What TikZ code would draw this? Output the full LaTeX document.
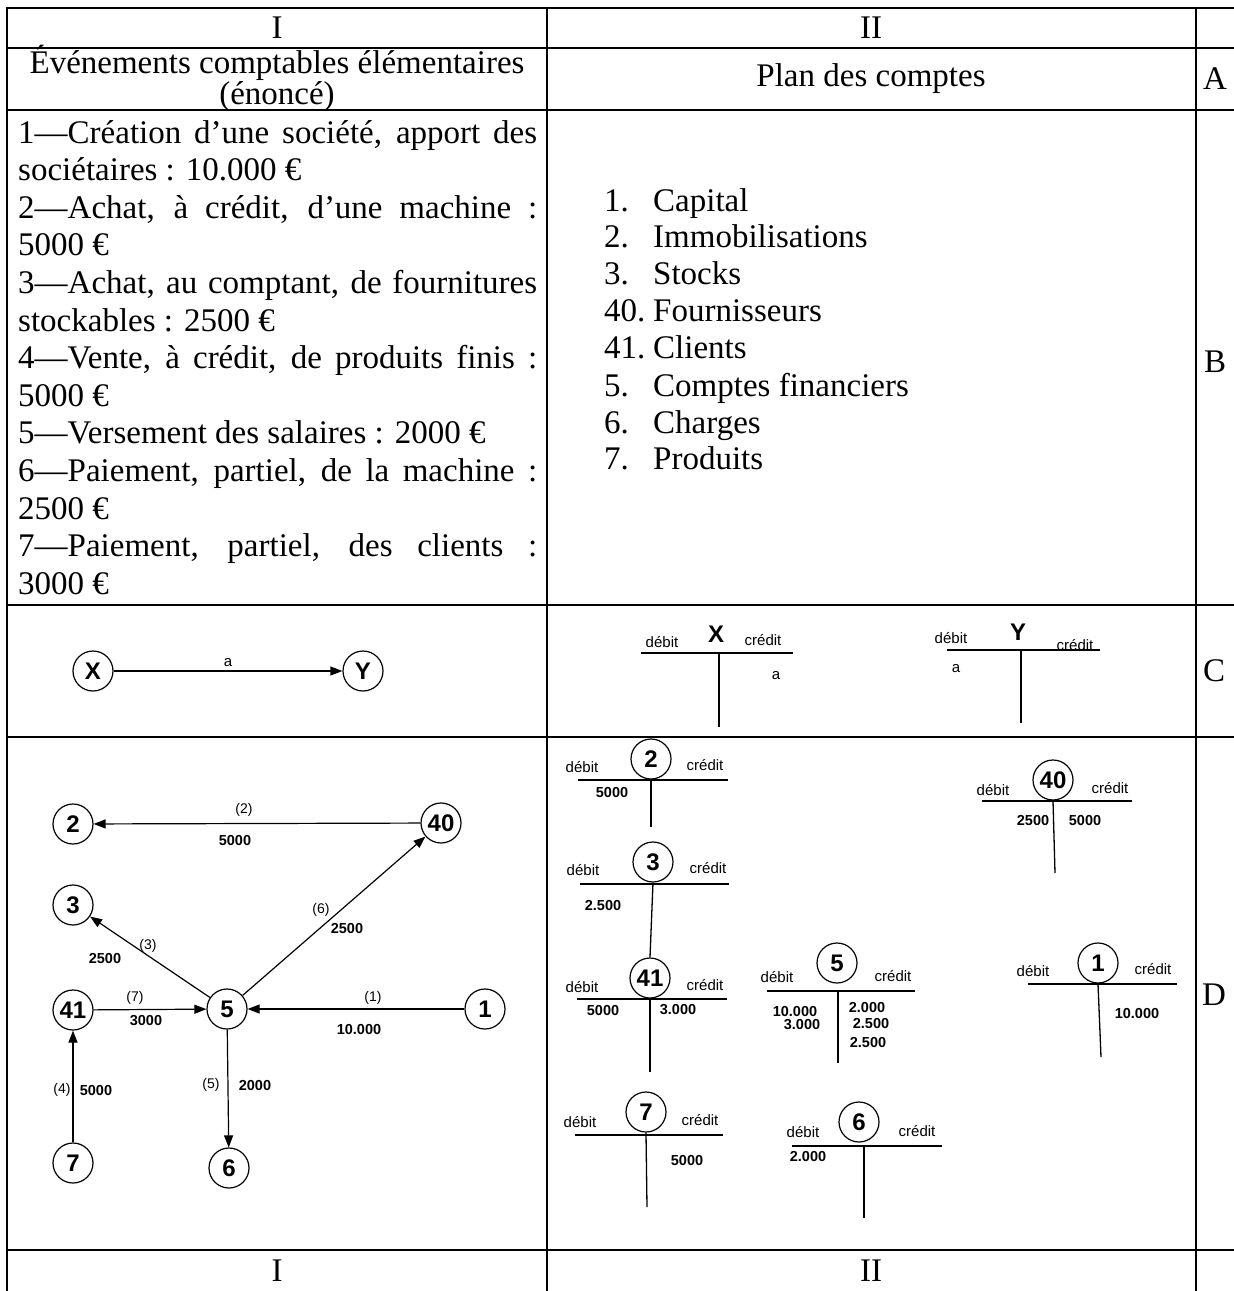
\documentclass[tikz,border=0pt]{standalone}
\usepackage{fontspec}
\setmainfont{Liberation Serif}
\newfontfamily\sansfam{Liberation Sans}
\usetikzlibrary{arrows.meta}
\newcommand\TabFont{\fontsize{33}{37.4}\selectfont}
\newcommand\CircFont{\sansfam\bfseries\fontsize{24}{24}\selectfont}
\newcommand\LabFont{\sansfam\fontsize{15}{15}\selectfont}
\newcommand\NumFont{\sansfam\bfseries\fontsize{14.5}{14.5}\selectfont}
\newcommand\ParFont{\sansfam\fontsize{14}{14}\selectfont}
\begin{document}
\begin{tikzpicture}[x=1pt,y=-1pt,
  tline/.style={line width=2.4pt},
  circ/.style={circle, draw, line width=1.2pt, minimum size=40pt, inner sep=0pt, font=\CircFont},
  tacc/.style={line width=1.3pt},
  lab/.style={font=\LabFont, inner sep=0pt},
  num/.style={font=\NumFont, inner sep=0pt},
  par/.style={font=\ParFont, inner sep=0pt},
  big/.style={font=\TabFont, inner sep=0pt},
  bigl/.style={big, anchor=base west},
  arr/.style={line width=1.2pt, -{Triangle[length=12pt,width=9pt]}},
  letter/.style={font=\CircFont, inner sep=0pt}]
\useasboundingbox (0,0) rectangle (1234,1291);
% ---------- table grid ----------
\foreach \yy in {8,48,110,605,737,1250}
  \draw[tline] (5.8,\yy) -- (1234,\yy);
\foreach \xx in {7,547,1196}
  \draw[tline] (\xx,8) -- (\xx,1291);
% ---------- header rows ----------
\node[big] (hI) at (277,28) {I};
\node[big] (hII) at (871,28) {II};
\node[big, align=center, font=\fontsize{33}{28}\selectfont] (hA1) at (277,78) {Événements comptables élémentaires\\(énoncé)};
\node[big] (hA2) at (871,79) {Plan des comptes};
\node[big] (lA) at (1215,79) {A};
\node[big] (lB) at (1215,362) {B};
\node[big] (lC) at (1214,671) {C};
\node[big] (lD) at (1214,995) {D};
\node[big] (fI) at (277,1271) {I};
\node[big] (fII) at (871,1271) {II};
% ---------- row B left ----------
\node[bigl] (b1) at (18,143.0) {\makebox[519pt][s]{1—Création d’une société, apport des}};
\node[bigl] (b2) at (18,180.6) {sociétaires : 10.000 €};
\node[bigl] (b3) at (18,218.2) {\makebox[519pt][s]{2—Achat, à crédit, d’une machine :}};
\node[bigl] (b4) at (18,255.8) {5000 €};
\node[bigl] (b5) at (18,293.4) {\makebox[519pt][s]{3—Achat, au comptant, de fournitures}};
\node[bigl] (b6) at (18,331.0) {stockables : 2500 €};
\node[bigl] (b7) at (18,368.6) {\makebox[519pt][s]{4—Vente, à crédit, de produits finis :}};
\node[bigl] (b8) at (18,406.2) {5000 €};
\node[bigl] (b9) at (18,443.8) {5—Versement des salaires : 2000 €};
\node[bigl] (b10) at (18,481.4) {\makebox[519pt][s]{6—Paiement, partiel, de la machine :}};
\node[bigl] (b11) at (18,519.0) {2500 €};
\node[bigl] (b12) at (18,556.6) {\makebox[519pt][s]{7—Paiement, partiel, des clients :}};
\node[bigl] (b13) at (18,594.2) {3000 €};
% ---------- row B right ----------
\foreach \nm/\lbl/\yy [count=\i] in {1./Capital/211, 2./Immobilisations/247, 3./Stocks/284, 40./Fournisseurs/321, 41./Clients/358, 5./Comptes financiers/396, 6./Charges/433, 7./Produits/469}{
  \node[bigl] (pn\i) at (604,\yy) {\nm};
  \node[bigl] (pl\i) at (653,\yy) {\lbl};
}
% ---------- row C left ----------
\node[circ] (cx) at (93,671) {X};
\node[circ] (cy) at (363,671) {Y};
\draw[arr] (cx) -- node[lab, above=4pt] (la) {a} (cy);
% ---------- row C right ----------
\coordinate (xl) at (641,653); \coordinate (xr) at (793,653);
\coordinate (xt) at (719,653); \coordinate (xb) at (719,727);
\draw[tacc] (xl) -- (xr); \draw[tacc] (xt) -- (xb);
\node[letter] (tX) at (716,634) {X};
\node[lab] (xd) at (662,642) {débit};
\node[lab] (xc) at (763,640) {crédit};
\node[lab] (xa) at (776,676) {a};
\coordinate (yl) at (947,650); \coordinate (yr) at (1100,650);
\coordinate (yt) at (1021,650); \coordinate (yb) at (1021,723);
\draw[tacc] (yl) -- (yr); \draw[tacc] (yt) -- (yb);
\node[letter] (tY) at (1018,632) {Y};
\node[lab] (yd) at (951,638) {débit};
\node[lab] (yc) at (1075,645) {crédit};
\node[lab] (ya) at (956,669) {a};
% ---------- row D left graph ----------
\node[circ] (n2) at (73,824) {2};
\node[circ] (n40) at (441,823) {40};
\node[circ] (n3) at (73,905) {3};
\node[circ] (n41) at (73,1010) {41};
\node[circ] (n5) at (227,1009) {5};
\node[circ] (n1) at (485,1009) {1};
\node[circ] (n7) at (73,1163) {7};
\node[circ] (n6) at (229,1168) {6};
\draw[arr] (n40) -- (n2);
\draw[arr] (n5) -- (n40);
\draw[arr] (n5) -- (n3);
\draw[arr] (n41) -- (n5);
\draw[arr] (n1) -- (n5);
\draw[arr] (n5) -- (n6);
\draw[arr] (n7) -- (n41);
\node[par] (e2a) at (244,810) {(2)};
\node[num] (e2b) at (235,840) {5000};
\node[par] (e6a) at (321,910) {(6)};
\node[num] (e6b) at (347,928) {2500};
\node[par] (e3a) at (148,946) {(3)};
\node[num] (e3b) at (105,958) {2500};
\node[par] (e7a) at (135,998) {(7)};
\node[num] (e7b) at (146,1021) {3000};
\node[par] (e1a) at (373,998) {(1)};
\node[num] (e1b) at (359,1029) {10.000};
\node[par] (e5a) at (211,1085) {(5)};
\node[num] (e5b) at (255,1085) {2000};
\node[par] (e4a) at (62,1090) {(4)};
\node[num] (e4b) at (96,1090) {5000};
% ---------- row D T-accounts ----------
% account 2
\node[circ] (t2) at (651,759) {2};
\draw[tacc] (578,780) -- (728,780); \draw[tacc] (t2.south) -- (651,827);
\node[lab] at (582,767) {débit}; \node[lab] at (705,765) {crédit};
\node[num] at (612,792) {5000};
% account 3
\node[circ] (t3) at (653,862) {3};
\node[circ] (t41) at (650,978) {41};
\draw[tacc] (580,884) -- (729,884); \draw[tacc] (t3.south) -- (t41.north);
\node[lab] at (583,870) {débit}; \node[lab] at (708,868) {crédit};
\node[num] at (603,905) {2.500};
% account 41
\draw[tacc] (577,999) -- (727,999); \draw[tacc] (t41.south) -- (650,1072);
\node[lab] at (582,987) {débit}; \node[lab] at (705,985) {crédit};
\node[num] at (603,1010) {5000}; \node[num] at (678,1010) {3.000};
% account 5
\node[circ] (t5) at (837,963) {5};
\draw[tacc] (767,991) -- (915,991); \draw[tacc] (838,991) -- (838,1063);
\node[lab] at (777,977) {débit}; \node[lab] at (893,976) {crédit};
\node[num] at (795,1011) {10.000}; \node[num] at (802,1025) {3.000};
\node[num] at (867,1007) {2.000}; \node[num] at (871,1023) {2.500}; \node[num] at (868,1042) {2.500};
% account 40
\node[circ] (t40) at (1053,780) {40};
\draw[tacc] (982,801) -- (1132,801); \draw[tacc] (t40.south) -- (1055,873);
\node[lab] at (993,790) {débit}; \node[lab] at (1110,788) {crédit};
\node[num] at (1033,820) {2500}; \node[num] at (1085,820) {5000};
% account 1
\node[circ] (t1) at (1098,963) {1};
\draw[tacc] (1028,984) -- (1177,984); \draw[tacc] (t1.south) -- (1101,1057);
\node[lab] at (1033,971) {débit}; \node[lab] at (1153,969) {crédit};
\node[num] at (1137,1013) {10.000};
% account 7
\node[circ] (t7) at (646,1112) {7};
\draw[tacc] (575,1135) -- (723,1135); \draw[tacc] (t7.south) -- (647,1207);
\node[lab] at (580,1122) {débit}; \node[lab] at (700,1120) {crédit};
\node[num] at (687,1160) {5000};
% account 6
\node[circ] (t6) at (859,1122) {6};
\draw[tacc] (792,1146) -- (942,1146); \draw[tacc] (864,1146) -- (864,1218);
\node[lab] at (803,1132) {débit}; \node[lab] at (917,1131) {crédit};
\node[num] at (808,1156) {2.000};
\end{tikzpicture}
\end{document}
